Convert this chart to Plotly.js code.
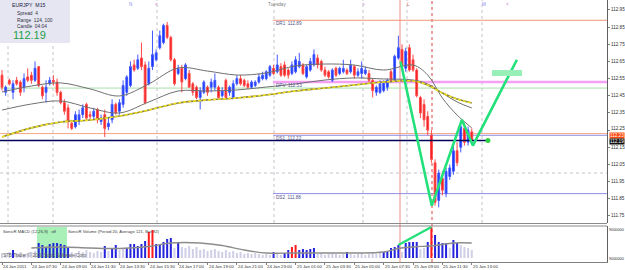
<!DOCTYPE html>
<html><head><meta charset="utf-8">
<script src="https://cdn.plot.ly/plotly-3.0.1.min.js"></script>
<style>html,body{margin:0;padding:0;background:#fff;overflow:hidden}#chart{width:625px;height:270px}</style>
</head><body><div id="chart"></div>
<script>
// ---------- data ----------
const timeLabels = ["24 Jan 2011","24 Jan 07:30","24 Jan 09:00","24 Jan 11:30","24 Jan 13:30","24 Jan 15:30","24 Jan 17:00","24 Jan 19:00","24 Jan 21:00","24 Jan 23:00","25 Jan 01:00","25 Jan 03:30","25 Jan 05:00","25 Jan 07:30","25 Jan 09:00","25 Jan 11:30","25 Jan 13:00"];
const timeLabelBars = [0,8,16,24,32,40,48,56,64,72,80,88,96,104,112,120,128];

const openP = [112.57,112.47,112.54,112.47,112.54,112.53,112.50,112.56,112.57,112.54,
112.62,112.50,112.47,112.52,112.54,112.53,112.47,112.41,112.38,112.29,
112.27,112.30,112.34,112.40,112.34,112.33,112.37,112.30,112.34,112.27,
112.31,112.40,112.36,112.40,112.47,112.51,112.63,112.61,112.67,112.63,
112.52,112.62,112.66,112.73,112.76,112.86,112.79,112.66,112.58,112.61,
112.55,112.58,112.52,112.50,112.44,112.47,112.50,112.50,112.50,112.50,
112.45,112.54,112.47,112.44,112.52,112.55,112.54,112.52,112.50,112.51,
112.53,112.55,112.55,112.57,112.61,112.59,112.62,112.63,112.60,112.58,
112.59,112.62,112.63,112.56,112.60,112.63,112.67,112.65,112.60,112.59,
112.54,112.61,112.58,112.59,112.60,112.59,112.62,112.57,112.58,112.58,
112.58,112.54,112.47,112.47,112.48,112.50,112.59,112.54,112.67,112.72,
112.61,112.73,112.66,112.60,112.44,112.40,112.33,112.22,112.06,111.84,
111.97,111.88,111.98,112.01,112.13,112.15,112.26,112.18,112.24];
const highP = [112.60,112.51,112.55,112.54,112.56,112.54,112.58,112.61,112.59,112.65,
112.62,112.51,112.54,112.56,112.57,112.55,112.48,112.43,112.40,112.31,
112.36,112.37,112.40,112.41,112.36,112.38,112.38,112.34,112.37,112.32,
112.43,112.41,112.43,112.54,112.57,112.65,112.66,112.69,112.76,112.65,
112.65,112.83,112.72,112.83,112.87,112.88,112.80,112.67,112.63,112.63,
112.64,112.60,112.53,112.51,112.50,112.54,112.51,112.55,112.58,112.51,
112.50,112.55,112.51,112.54,112.57,112.57,112.55,112.54,112.54,112.54,
112.58,112.59,112.60,112.63,112.63,112.69,112.64,112.65,112.61,112.65,
112.68,112.70,112.64,112.63,112.67,112.72,112.69,112.66,112.62,112.60,
112.61,112.62,112.62,112.66,112.61,112.66,112.63,112.61,112.65,112.62,
112.60,112.55,112.51,112.54,112.54,112.55,112.60,112.69,112.80,112.75,
112.73,112.75,112.69,112.61,112.45,112.43,112.36,112.25,112.08,112.02,
112.01,112.03,112.05,112.16,112.18,112.30,112.29,112.27,112.26];
const lowP = [112.48,112.45,112.51,112.43,112.51,112.45,112.47,112.53,112.52,112.53,
112.50,112.43,112.41,112.51,112.51,112.45,112.40,112.34,112.26,112.25,
112.26,112.28,112.32,112.31,112.31,112.31,112.29,112.28,112.21,112.25,
112.29,112.34,112.34,112.38,112.45,112.50,112.59,112.60,112.60,112.40,
112.51,112.60,112.65,112.72,112.75,112.78,112.65,112.51,112.57,112.47,
112.54,112.50,112.45,112.43,112.37,112.46,112.45,112.47,112.48,112.43,
112.44,112.43,112.45,112.43,112.51,112.51,112.50,112.49,112.49,112.50,
112.52,112.54,112.54,112.56,112.57,112.58,112.56,112.56,112.55,112.57,
112.58,112.61,112.57,112.55,112.59,112.62,112.61,112.59,112.56,112.55,
112.53,112.56,112.57,112.58,112.57,112.58,112.55,112.56,112.55,112.57,
112.53,112.44,112.45,112.46,112.47,112.48,112.53,112.53,112.66,112.60,
112.59,112.59,112.59,112.44,112.32,112.27,112.22,112.06,111.81,111.80,
111.87,111.86,111.96,111.99,112.04,112.12,112.16,112.16,112.17];
const closeP = [112.50,112.50,112.52,112.52,112.52,112.47,112.55,112.54,112.54,112.61,
112.51,112.45,112.50,112.54,112.53,112.47,112.41,112.36,112.30,112.26,
112.34,112.34,112.38,112.32,112.33,112.36,112.31,112.32,112.26,112.29,
112.40,112.35,112.41,112.51,112.56,112.62,112.60,112.66,112.62,112.41,
112.61,112.69,112.70,112.80,112.86,112.79,112.66,112.52,112.61,112.53,
112.63,112.50,112.47,112.44,112.48,112.53,112.47,112.53,112.54,112.44,
112.48,112.44,112.50,112.52,112.55,112.52,112.51,112.50,112.53,112.53,
112.56,112.57,112.59,112.62,112.58,112.63,112.57,112.57,112.57,112.63,
112.66,112.65,112.58,112.62,112.65,112.69,112.63,112.60,112.57,112.56,
112.60,112.57,112.61,112.61,112.58,112.63,112.57,112.59,112.61,112.60,
112.54,112.48,112.50,112.52,112.53,112.54,112.54,112.68,112.73,112.62,
112.71,112.60,112.60,112.45,112.35,112.31,112.25,112.08,111.83,112.00,
111.90,112.01,112.03,112.13,112.06,112.27,112.18,112.25,112.19];

// moving averages sampled at bar indices
const maBars   = [0,8,16,24,32,40,48,56,64,72,80,88,96,104,112,116,120,124,128];
const maUpper  = [112.472,112.507,112.525,112.490,112.449,112.519,112.612,112.594,112.571,112.583,112.624,112.635,112.629,112.600,112.629,112.571,112.437,112.338,112.263];
const maLower  = [112.367,112.402,112.420,112.379,112.350,112.414,112.478,112.478,112.484,112.501,112.519,112.542,112.554,112.548,112.542,112.519,112.466,112.414,112.379];
const maYellow = [112.210,112.263,112.297,112.309,112.332,112.367,112.408,112.426,112.437,112.455,112.478,112.495,112.513,112.530,112.536,112.513,112.466,112.431,112.408];

// SonicR volume
const volume = [50,40,60,80,50,60,40,50,60,70,
150,130,110,140,150,150,140,130,110,60,
50,70,60,80,60,50,70,60,120,70,
100,130,80,90,100,140,140,120,140,170,
260,280,140,130,160,190,200,100,160,110,
100,120,90,110,80,90,70,80,90,70,
60,80,60,70,50,60,40,50,40,50,
40,30,40,30,60,40,30,50,80,110,
130,80,90,80,90,100,40,50,30,40,
50,40,30,40,60,40,30,40,50,30,
40,50,40,50,60,70,100,110,130,60,
150,160,160,160,90,100,160,310,230,160,
150,150,100,180,150,130,110,100,80];
const volumeClass = ("LLLBLLLLLL"+"BBBBBBBBBL"+"LLLLLLLLBL"+"BBLLBBBBBB"+"RRBBBBBLBL"+
  "LLLLLLLLLL"+"LLLLLLLLLL"+"LLLLBLLBBR"+"RBBBBBLLLL"+"LLLLBLLLLL"+"LLLLBBBBBL"+"BBBBLLBRBB"+"BBLBBLLLL").split("");
const volMaBars = [8,16,24,32,40,46,54,60,66,72,80,88,96,104,108,112,118,123,128];
const volMa     = [100,110,100,95,115,150,150,125,80,50,50,50,50,60,95,110,125,150,150];
const volAxisLabels = ["9000000","9000000"];

// pivot levels and other levels
const pivotNames  = ["DR1","DPV","DS1","DS2"];
const pivotValues = [112.89,112.53,112.22,111.88];
const bidPrice = 112.19, askPrice = 112.23, greenLevel = 112.495;
const zigzagBars  = [108.6,117.1,125.3,128.3,140.3];
const zigzagPrice = [112.65,111.81,112.31,112.16,112.66];
const priceTicks = [112.95,112.85,112.75,112.65,112.55,112.45,112.35,112.25,112.15,112.05,111.95,111.85,111.75];

// ---------- drawing ----------
const W=625,H=270, PX=x=>x/W, PY=y=>1-y/H;
const FONT="Liberation Sans, Arial, sans-serif";
const bars = openP.map((_,i)=>i);
const xr=[-0.545,164.85];

const traces=[];
traces.push({type:'scatter',mode:'lines',x:maBars,y:maUpper,line:{color:'#707070',width:1,shape:'spline'},hoverinfo:'skip'});
traces.push({type:'scatter',mode:'lines',x:maBars,y:maLower,line:{color:'#707070',width:1,shape:'spline'},hoverinfo:'skip'});
traces.push({type:'scatter',mode:'lines',x:maBars,y:maYellow,line:{color:'#8a8440',width:1.6,shape:'spline'},hoverinfo:'skip'});
traces.push({type:'scatter',mode:'lines',x:maBars,y:maYellow,line:{color:'#f0e020',width:1.6,shape:'spline',dash:'3px,2px'},hoverinfo:'skip'});
traces.push({type:'scatter',mode:'lines',x:[xr[0],132.4],y:[bidPrice,bidPrice],line:{color:'#00005a',width:1.6},hoverinfo:'skip'});
traces.push({type:'candlestick',x:bars,open:openP,high:highP,low:lowP,close:closeP,
  increasing:{line:{color:'#4058ff',width:1},fillcolor:'#1430ff'},
  decreasing:{line:{color:'#ff4848',width:1},fillcolor:'#f01818'},
  whiskerwidth:0,hoverinfo:'skip'});
traces.push({type:'scatter',mode:'lines',x:zigzagBars,y:zigzagPrice,line:{color:'#22e07a',width:2.6},hoverinfo:'skip'});
traces.push({type:'scatter',mode:'markers',x:[132.4],y:[bidPrice],marker:{color:'#30d040',size:5},hoverinfo:'skip'});
const volColor={L:'#cfcfe6',B:'#2424dc',R:'#ff1c1c'};
traces.push({type:'bar',x:bars,y:volume,yaxis:'y2',marker:{color:volumeClass.map(c=>volColor[c]),line:{width:0}},hoverinfo:'skip'});
traces.push({type:'scatter',mode:'lines',x:volMaBars,y:volMa,yaxis:'y2',line:{color:'#8c8c8c',width:1.4,shape:'spline'},hoverinfo:'skip'});
traces.push({type:'scatter',mode:'lines',x:[108,117],y:[volume[108],volume[117]],yaxis:'y2',line:{color:'#22e07a',width:2.2},hoverinfo:'skip'});

const shapes=[];
const hline=(price,x0px,x1px,color,width,dash)=>({type:'line',xref:'paper',yref:'y',x0:PX(x0px),x1:PX(x1px),y0:price,y1:price,line:{color,width,dash:dash||'solid'},layer:'below'});
[8,53,157,274,363,407,482].forEach(px=>shapes.push({type:'line',xref:'paper',yref:'paper',x0:PX(px),x1:PX(px),y0:PY(223),y1:1,line:{color:'#c4c4cc',width:1,dash:'dot'},layer:'below'}));
shapes.push({type:'line',xref:'paper',yref:'paper',x0:0,x1:PX(607),y0:PY(173),y1:PY(173),line:{color:'#c4c4cc',width:1,dash:'dot'},layer:'below'});
shapes.push({type:'line',xref:'paper',yref:'paper',x0:PX(400),x1:PX(400),y0:PY(262),y1:1,line:{color:'#f08a8a',width:1},layer:'below'});
shapes.push({type:'line',xref:'paper',yref:'paper',x0:PX(432),x1:PX(432),y0:PY(262),y1:1,line:{color:'#f0a0a0',width:2,dash:'dot'},layer:'below'});
shapes.push(hline(greenLevel,0,607,'#a8e0a8',1));
shapes.push(hline(askPrice,0,607,'#f4a888',1));
const pivotColors={DR1:'#f09478',DPV:'#f5a0f5',DS1:'#8c8ce6',DS2:'#8c8ce6'};
pivotNames.forEach((n,k)=>shapes.push(hline(pivotValues[k],273,607,pivotColors[n],n==='DPV'?2.6:1)));
shapes.push({type:'rect',xref:'x',yref:'y',x0:133.5,x1:141.7,y0:112.565,y1:112.60,fillcolor:'#98f0b8',line:{width:0},layer:'above'});
shapes.push({type:'rect',xref:'x',yref:'y2',x0:9.5,x1:17.7,y0:0,y1:310,fillcolor:'#a8f0b8',line:{width:0},layer:'below'});
shapes.push({type:'rect',xref:'paper',yref:'paper',x0:0,x1:PX(70),y0:PY(43),y1:1,fillcolor:'#e6e6f2',line:{width:0},layer:'above'});
shapes.push({type:'line',xref:'paper',yref:'paper',x0:0,x1:PX(607),y0:PY(223.5),y1:PY(223.5),line:{color:'#8a8a8a',width:1}});
shapes.push({type:'line',xref:'paper',yref:'paper',x0:0,x1:PX(607),y0:PY(226),y1:PY(226),line:{color:'#8a8a8a',width:1}});

const ann=[];
const txt=(text,xpx,ypx,size,color,extra)=>Object.assign({text,xref:'paper',yref:'paper',x:PX(xpx),y:PY(ypx),xanchor:'left',yanchor:'top',borderpad:0,showarrow:false,font:{family:FONT,size,color}},extra||{});
ann.push(txt('EURJPY&nbsp;&nbsp;M15',11,1.5,5.2,'#202040'));
ann.push(txt('Spread&nbsp;&nbsp;4',16,10,4.8,'#303040'));
ann.push(txt('Range&nbsp;&nbsp;124, 100',16,16.5,4.8,'#303040'));
ann.push(txt('Candle&nbsp;&nbsp;04:04',16,23,4.8,'#303040'));
ann.push(txt(bidPrice.toFixed(2),12,28.5,11,'#20a048'));
ann.push(txt('Tuesday',267,0.5,4.7,'#808080'));
[['N',128,'#8c8cf0'],['<',154,'#d060d0'],['>',361,'#c080c0'],['L',406,'#e07070'],['M',481,'#8c8cf0'],['<',505,'#d060d0']].forEach(m=>ann.push(txt(m[0],m[1],0.5,4.7,m[2])));
pivotNames.forEach((n,k)=>ann.push({text:n+'&nbsp;&nbsp;'+pivotValues[k].toFixed(2),xref:'paper',yref:'y',x:PX(275),y:pivotValues[k],xanchor:'left',yanchor:'top',borderpad:0,showarrow:false,font:{family:FONT,size:4.6,color:'#50508a'}}));
// price scale labels
priceTicks.forEach(v=>ann.push({text:v.toFixed(2),xref:'paper',yref:'y',x:PX(609.5),y:v,xanchor:'left',yanchor:'middle',yshift:(Math.abs(v-askPrice)<0.03)?1.5:0,borderpad:0,showarrow:false,font:{family:FONT,size:4.6,color:'#303030'}}));
ann.push({text:askPrice.toFixed(2),xref:'paper',yref:'y',x:PX(608.5),y:askPrice,xanchor:'left',yanchor:'middle',yshift:-1.6,showarrow:false,bgcolor:'#ff4a10',borderpad:0,font:{family:FONT,size:4.6,color:'#ffffff'}});
ann.push({text:bidPrice.toFixed(2),xref:'paper',yref:'y',x:PX(608.5),y:bidPrice,xanchor:'left',yanchor:'middle',yshift:-0.8,showarrow:false,bgcolor:'#101010',borderpad:0,font:{family:FONT,size:4.6,color:'#ffffff'}});
// time scale labels
timeLabels.forEach((t,k)=>ann.push({text:t,xref:'x',yref:'paper',x:timeLabelBars[k],y:PY(263),xanchor:'left',yanchor:'top',borderpad:0,showarrow:false,font:{family:FONT,size:4.3,color:'#303030'}}));
ann.push(txt('SonicR MACD (12,26,9)&nbsp;&nbsp;&nbsp;off',2,227.5,4.2,'#404040'));
ann.push(txt('SonicR Volume (Period 20, Average 121, Bar 82)',67,227.5,4.2,'#404040'));
ann.push(txt('STB Trader © 2010 Sonic Software Corp',2,251,4.6,'#606060'));
ann.push(txt(volAxisLabels[0],608,226.5,3.8,'#303030'));
ann.push(txt(volAxisLabels[1],608,256,3.8,'#303030'));

const layout={
  width:W,height:H,margin:{l:0,r:0,t:0,b:0},paper_bgcolor:'#ffffff',plot_bgcolor:'#ffffff',
  showlegend:false,bargap:0.45,font:{family:FONT},
  xaxis:{domain:[0,PX(607)],range:xr,anchor:'y2',tickmode:'array',tickvals:timeLabelBars,showticklabels:false,
    ticks:'outside',ticklen:2,tickcolor:'#808080',
    showline:true,linecolor:'#808080',showgrid:false,zeroline:false,rangeslider:{visible:false},fixedrange:true},
  yaxis:{domain:[PY(223),1],range:[111.709,113.008],anchor:'x',side:'right',tickmode:'array',tickvals:priceTicks,
    showticklabels:false,ticks:'outside',ticklen:2,tickcolor:'#808080',
    showline:true,linecolor:'#606060',showgrid:false,zeroline:false,fixedrange:true},
  yaxis2:{domain:[PY(262),PY(226)],range:[-40,320],anchor:'x',side:'right',showticklabels:false,ticks:'',
    showline:true,linecolor:'#606060',showgrid:false,zeroline:false,fixedrange:true},
  shapes,annotations:ann
};
Plotly.newPlot('chart',traces,layout,{staticPlot:true,displayModeBar:false});
</script></body></html>
